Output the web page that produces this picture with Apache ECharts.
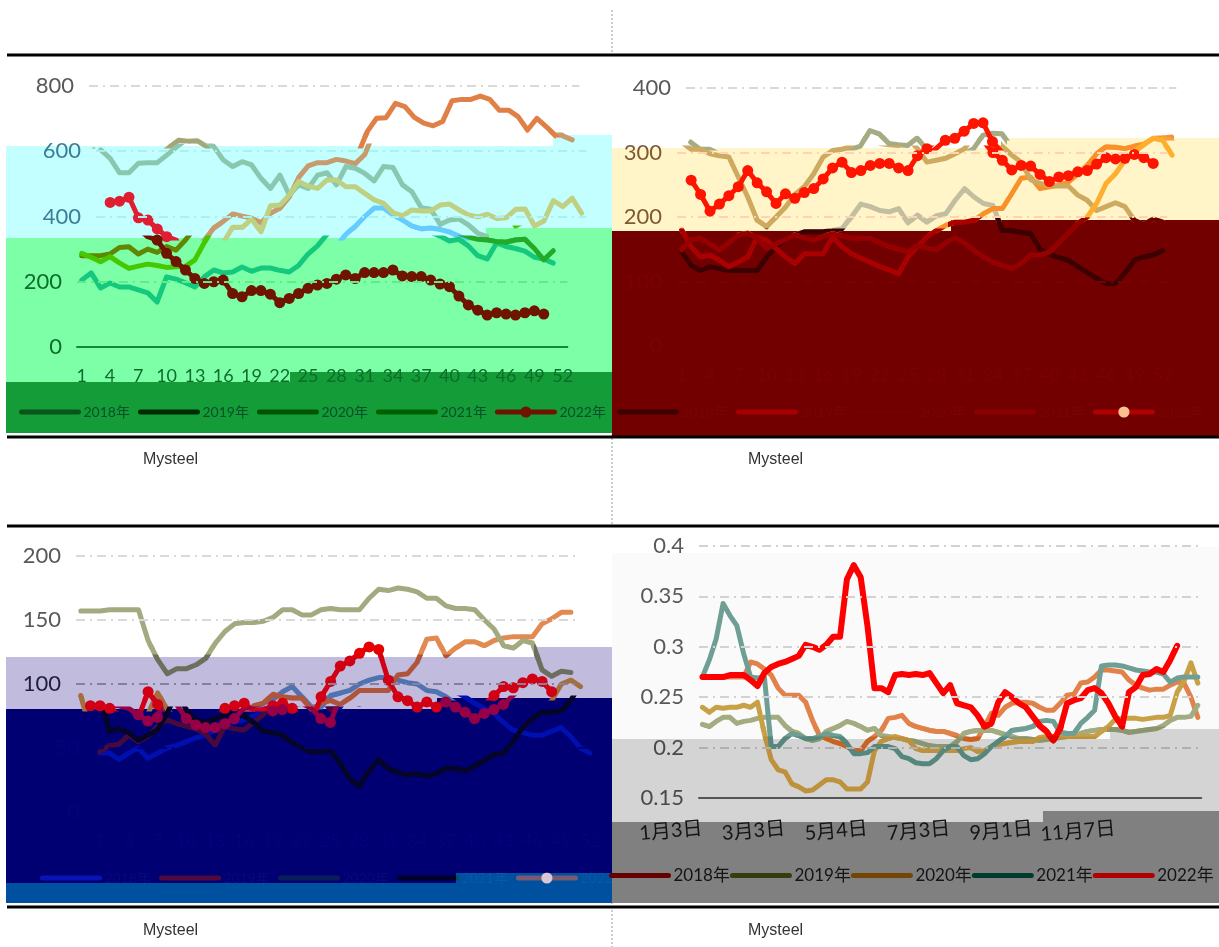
<!DOCTYPE html>
<html>
<head>
<meta charset="utf-8">
<style>html,body{margin:0;padding:0;background:#fff}#main{width:1219px;height:947px}</style>
<script src="https://cdn.jsdelivr.net/npm/echarts@6/dist/echarts.min.js"></script>
</head>
<body>
<div id="main"></div>
<script>
var years = ['2018年', '2019年', '2020年', '2021年', '2022年'];
var weeks = [];
for (var w = 1; w <= 52; w++) weeks.push(String(w));

// top left
var tl2018 = [205,227,181,196,184,184,175,166,138,215,208,197,184,215,236,227,230,245,232,242,242,235,230,250,285,310,345,370,400,426,426,405,389,371,362,365,360,352,340,325,330,310,280,270,319,308,302,294,275,270,257];
var tl2019 = [280,280,280,285,305,307,285,300,290,308,297,328,365,385,408,401,395,381,410,425,460,520,555,565,565,575,570,562,590,660,701,703,747,737,704,686,678,691,755,759,759,769,759,726,726,706,665,701,675,647,635];
var tl2020 = [604,578,534,534,563,565,565,588,612,634,631,632,614,573,553,568,558,517,486,527,466,497,486,527,534,497,553,548,532,509,553,550,497,476,427,422,376,389,392,374,348,338,330,328,323,321,328,330,302,267,295];
var tl2021 = [287,275,261,277,258,241,248,254,250,244,246,247,267,320,367,367,392,353,433,435,466,507,493,486,512,512,491,491,471,451,440,412,402,420,417,417,435,438,420,405,399,407,394,396,422,423,371,386,449,430,456,410];
var tl2022 = [null,443,447,459,396,389,362,338,328,287,262,236,210,195,200,205,164,154,173,173,162,136,149,164,180,190,195,208,221,210,228,228,228,236,218,216,216,205,193,185,156,129,113,98,105,101,98,105,111,101];

// top right
var tr2018 = [146,125,117,123,120,117,117,117,117,138,154,165,172,177,177,177,179,182,200,220,216,210,208,213,191,203,192,202,205,226,244,231,221,218,179,179,176,174,150,142,137,133,123,114,105,97,97,113,133,138,141,148];
var tr2019 = [180,154,138,141,133,123,130,138,169,164,151,138,128,143,143,143,169,154,143,136,130,123,118,112,138,154,169,179,187,192,192,195,205,213,213,236,260,262,244,247,249,254,267,280,298,309,308,306,310,313,322,324];
var tr2020 = [316,305,305,298,295,293,262,231,195,185,200,215,235,247,267,293,303,305,310,334,329,314,312,311,322,306,285,288,291,298,306,327,330,329,309,296,285,258,252,249,248,248,234,226,210,216,222,216,195,188,197,192];
var tr2021 = [149,165,167,158,149,160,172,175,167,151,158,165,172,168,164,170,174,170,167,167,167,160,154,150,146,156,152,149,160,168,160,148,138,130,125,120,128,141,141,146,160,175,190,200,221,252,267,288,301,312,322,319,296];
var tr2022 = [null,257,235,209,220,233,247,272,253,239,221,236,229,238,244,259,276,285,269,272,280,283,283,276,272,295,306,319,322,333,345,346,317,300,288,273,280,279,266,255,262,264,270,272,282,292,290,291,297,292,283];

// bottom left
var bl2018 = [46,46,41,46,50,42,46,50,52,55,58,60,64,67,70,72,75,78,80,85,88,94,98,90,82,82,91,93,95,100,103,105,105,103,101,100,95,94,90,85,81,77,70,64,62,60,60,63,66,59,50,46];
var bl2019 = [47,52,53,60,55,59,67,72,69,67,65,61,52,67,65,64,70,76,83,85,92,90,89,89,80,85,87,84,89,95,95,95,95,107,108,117,135,136,122,128,133,133,130,134,136,137,137,137,147,151,156,156];
var bl2020 = [157,157,157,158,158,158,158,134,119,108,112,112,115,120,132,141,147,148,148,149,152,158,158,154,154,158,159,158,158,158,167,174,173,175,174,172,167,167,161,159,159,158,150,143,130,128,134,132,111,106,110,109];
var bl2021 = [91,63,65,62,56,60,64,77,93,80,72,70,73,76,76,75,70,63,62,60,54,50,47,47,48,38,26,20,32,41,34,31,29,30,28,30,34,34,32,36,40,45,46,55,66,73,78,78,79,87,100,103,98];
var bl2022 = [null,83,83,81,76,71,74,94,84,73,68,66,66,69,73,81,83,85,79,80,83,85,81,73,70,90,102,114,118,124,129,127,103,90,87,82,86,82,78,73,77,80,84,91,98,97,101,104,102,94];

// bottom right, one value every five days
var br2018 = [.270,.270,.270,.270,.270,.270,.270,.285,.283,.278,.272,.259,.252,.252,.252,.245,.227,.212,.209,.206,.204,.201,.197,.197,.206,.211,.217,.229,.230,.232,.224,.221,.219,.217,.216,.216,.214,.212,.209,.208,.209,.221,.234,.232,.240,.244,.245,.245,.244,.240,.237,.237,.244,.252,.253,.264,.265,.270,.277,.277,.276,.275,.267,.262,.259,.257,.258,.258,.262,.265,.264,.250,.230];
var br2019 = [.223,.221,.226,.230,.230,.224,.226,.227,.229,.230,.230,.230,.222,.216,.214,.209,.207,.209,.216,.219,.222,.226,.224,.221,.217,.219,.212,.211,.210,.209,.207,.206,.204,.202,.201,.201,.201,.206,.214,.216,.217,.217,.217,.215,.213,.211,.209,.209,.208,.207,.208,.209,.210,.211,.212,.214,.216,.217,.218,.218,.218,.217,.215,.216,.217,.218,.219,.222,.227,.230,.230,.231,.242];
var br2020 = [.240,.235,.240,.239,.240,.240,.242,.240,.245,.214,.188,.178,.176,.164,.161,.157,.158,.163,.168,.168,.166,.159,.159,.159,.166,.197,.206,.209,.211,.209,.207,.199,.197,.197,.197,.197,.197,.197,.199,.200,.196,.197,.201,.203,.204,.205,.206,.206,.206,.210,.211,.211,.211,.211,.211,.211,.211,.211,.216,.221,.228,.229,.229,.229,.228,.229,.230,.230,.232,.255,.266,.284,.264];
var br2021 = [.270,.287,.308,.343,.331,.321,.293,.270,.269,.270,.201,.201,.209,.214,.212,.209,.209,.211,.214,.212,.211,.204,.194,.194,.195,.201,.201,.201,.199,.191,.189,.185,.184,.184,.189,.197,.201,.201,.192,.188,.189,.194,.201,.206,.211,.217,.218,.219,.221,.226,.227,.226,.215,.214,.214,.224,.230,.237,.281,.282,.282,.281,.279,.277,.276,.275,.275,.273,.265,.269,.270,.270,.270];
var br2022 = [.270,.270,.270,.270,.272,.272,.272,.267,.261,.274,.280,.283,.285,.288,.291,.302,.300,.297,.302,.310,.310,.367,.381,.369,.320,.259,.259,.255,.272,.273,.272,.273,.272,.274,.264,.254,.262,.244,.242,.240,.232,.221,.224,.245,.255,.250,.244,.240,.231,.222,.216,.207,.219,.244,.247,.249,.257,.259,.254,.244,.231,.221,.255,.260,.272,.273,.278,.275,.287,.301];

var brTicks = {0: '1月3日', 12: '3月3日', 24: '5月4日', 36: '7月3日', 48: '9月1日', 60: '11月7日'};
var brCats = [];
for (var d = 0; d < 73; d++) brCats.push(brTicks[d] || '');

var FONT = 'Lato, "Noto Sans CJK SC", sans-serif';
var DASH = [9, 5, 2, 5];

var panels = [
    {
        id: 'tl', L: 6, R: 612, end: 433, left: 77, catW: 9.43, top: 86, bottom: 347, min: 0, max: 800,
        data: [tl2018, tl2019, tl2020, tl2021, tl2022], ticks: [800, 600, 400, 200, 0],
        cats: weeks, interval: 2, catFont: 18, catColor: '#0d6e2a', axisColor: '#128a35', catShift: 0,
        legend: {left: 19, top: 405, font: 14, gap: 8, z: 6, text: '#0a5028', marker: '#6e1400', colors: ['#0a5519', '#002d00', '#005505', '#005f00', '#6e1400']},
        strips: [
            {top: 55, fill: '#ffffff', shift: 12, grid: '#d9d9d9', tick: '#595959', colors: ['#5b9bd5', '#e07f46', '#a5a578', '#b4c878', '#e01e32']},
            {top: 146, stepX: 553, stepTop: 135, fill: '#c4ffff', shift: 19, grid: '#aaf0f0', tick: '#3a7f95', colors: ['#64ccff', '#c69b6e', '#89c8af', '#bed082', '#e01e32']},
            {top: 238, stepX: 486, stepTop: 228, fill: '#7dffa8', shift: 0, grid: '#5feb87', tick: '#0d6e2a', colors: ['#14c87d', '#5f8700', '#23aa28', '#46c800', '#6e1400']},
            {top: 382, stepX: 290, stepTop: 372, fill: '#149c38', shift: 0, grid: '#149c38', tick: '#0d6e2a', colors: ['#149c38', '#149c38', '#149c38', '#149c38', '#149c38'], empty: true}
        ]
    },
    {
        id: 'tr', L: 612, R: 1219, end: 436, left: 677, catW: 9.43, top: 88, bottom: 346, min: 0, max: 400,
        data: [tr2018, tr2019, tr2020, tr2021, tr2022], ticks: [400, 300, 200, 100, 0],
        cats: weeks, interval: 2, catFont: 18, catColor: '#790202', axisColor: '#730000', catShift: 0,
        legend: {left: 617, top: 405, font: 14, gap: 8, z: 6, text: '#7a0303', marker: '#ffc090', colors: ['#400000', '#a80000', '#750000', '#8c0000', '#b00000']},
        strips: [
            {top: 55, fill: '#ffffff', shift: 9, grid: '#d9d9d9', tick: '#595959', colors: ['#a8a890', '#f09040', '#a5ab85', '#f5a030', '#ff1400']},
            {top: 148, stepX: 1004, stepTop: 138, fill: '#fff5c8', shift: 0, grid: '#ffd2b4', tick: '#7d5a32', colors: ['#c3be9f', '#fa9128', '#cdaa5f', '#ffaf2d', '#ff1400']},
            {top: 231, stepX: 951, stepTop: 220, fill: '#730000', shift: 0, grid: '#760202', tick: '#790202', colors: ['#3c0000', '#aa0000', '#730000', '#960000', '#ff1400']}
        ]
    },
    {
        id: 'bl', L: 6, R: 612, end: 903, left: 76, catW: 9.61, top: 556, bottom: 812, min: 0, max: 200,
        data: [bl2018, bl2019, bl2020, bl2021, bl2022], ticks: [200, 150, 100, 50, 0],
        cats: weeks, interval: 2, catFont: 18, catColor: '#03037a', axisColor: '#000073', catShift: 19,
        legend: {left: 40, top: 871, font: 14, gap: 8, z: 6, text: '#08087e', marker: '#d878a8', colors: ['#0a14b4', '#500a3c', '#0a1e5a', '#000028', '#780a46']},
        strips: [
            {top: 525, fill: '#ffffff', shift: 0, grid: '#d9d9d9', tick: '#595959', colors: ['#5b8cc8', '#e38a50', '#a3aa80', '#c89650', '#e60000']},
            {top: 657, stepX: 537, stepTop: 647, fill: '#c1bbde', shift: 0, grid: '#82829b', tick: '#1f1f3f', colors: ['#5073af', '#af553c', '#6e6e5f', '#a56e3c', '#d20014']},
            {top: 709, stepX: 437, stepTop: 698, fill: '#000073', shift: 19, grid: '#000078', tick: '#03037a', colors: ['#000fb0', '#460a3c', '#0a1460', '#050528', '#960046']}
        ],
        lighter: [{x: 6, y: 883, w: 606, h: 20}, {x: 456, y: 873, w: 156, h: 10}]
    },
    {
        id: 'br', L: 612, R: 1219, end: 903, left: 699, catW: 6.88, top: 546, bottom: 798, min: 0.15, max: 0.4,
        data: [br2018, br2019, br2020, br2021, br2022], ticks: [0.4, 0.35, 0.3, 0.25, 0.2, 0.15],
        cats: brCats, interval: function (i) { return brTicks[i] !== undefined; }, catFont: 20, catColor: '#141414', axisColor: '#555555', catShift: 0, rotate: 5,
        legend: {left: 609, top: 867, font: 17, gap: 0, z: 9, text: '#141414', marker: '#b00000', colors: ['#640000', '#373c0f', '#734605', '#003c2d', '#b20000']},
        strips: [
            {top: 525, fill: '#ffffff', shift: 0, grid: '#d2d2d2', tick: '#595959', colors: ['#e0824a', '#a3ab80', '#c8a046', '#6f9f94', '#ff0000']},
            {top: 553, stepX: 1081, stepTop: 547, fill: '#fafafa', shift: 0, grid: '#d2d2d2', tick: '#595959', colors: ['#e0824a', '#a3ab80', '#c8a046', '#6f9f94', '#ff0000']},
            {top: 739, stepX: 1110, stepTop: 729, fill: '#d4d4d4', shift: 0, grid: '#b0b0b0', tick: '#4a4a4a', colors: ['#c86423', '#8c966e', '#be913c', '#55877d', '#e60000']},
            {top: 822, stepX: 1043, stepTop: 811, fill: '#808080', shift: 0, grid: '#808080', tick: '#222222', colors: ['#808080', '#808080', '#808080', '#808080', '#808080'], empty: true}
        ]
    }
];

var grids = [], xAxes = [], yAxes = [], series = [], legends = [], shapes = [];

function yToValue (p, y) {
    return p.min + (p.bottom - y) / (p.bottom - p.top) * (p.max - p.min);
}

function addRect (p, s, x0, x1, y0, y1, isMain) {
    shapes.push({type: 'rect', z: 1, silent: true, shape: {x: x0, y: y0, width: x1 - x0, height: y1 - y0}, style: {fill: s.fill}});
    if (s.empty) return;
    var idx = grids.length;
    var originX = p.left + s.shift;
    grids.push({left: x0, top: y0, width: x1 - x0, height: y1 - y0});
    xAxes.push({type: 'value', gridIndex: idx, show: false, min: 0.5 + (x0 - originX) / p.catW, max: 0.5 + (x1 - originX) / p.catW});
    yAxes.push({type: 'value', gridIndex: idx, show: false, min: yToValue(p, y1), max: yToValue(p, y0)});
    p.data.forEach(function (vals, k) {
        var points = [];
        vals.forEach(function (v, i) {
            if (v !== null) points.push([i + 1, v]);
        });
        series.push({
            name: p.id + '-' + years[k],
            type: 'line',
            xAxisIndex: idx,
            yAxisIndex: idx,
            z: 3 + k * 0.1,
            silent: true,
            animation: false,
            data: points,
            symbol: p.id !== 'br' && k === 4 ? 'circle' : 'none',
            symbolSize: 11,
            showAllSymbol: true,
            itemStyle: {color: s.colors[k]},
            lineStyle: {color: s.colors[k], width: p.id === 'br' && k === 4 ? 6 : 5, cap: 'round', join: 'round'}
        });
    });
    if (!isMain) return;
    var lines = [];
    p.ticks.forEach(function (t) {
        var y = p.bottom - (t - p.min) / (p.max - p.min) * (p.bottom - p.top);
        if (y < y0 || y >= y1) return;
        lines.push([
            {coord: [0.5, t], label: {formatter: String(t)}},
            {coord: [p.cats.length + 0.5, t]}
        ]);
    });
    if (!lines.length) return;
    series.push({
        type: 'line',
        xAxisIndex: idx,
        yAxisIndex: idx,
        z: 2,
        silent: true,
        data: [],
        markLine: {
            silent: true,
            animation: false,
            symbol: 'none',
            lineStyle: {color: s.grid, width: 2, type: DASH},
            label: {show: true, position: 'start', distance: 15, fontFamily: FONT, fontSize: 22, color: s.tick},
            data: lines
        }
    });
}

panels.forEach(function (p) {
    p.strips.forEach(function (s, i) {
        var next = p.strips[i + 1];
        var mainBottom = next ? (next.stepTop || next.top) : p.end;
        addRect(p, s, p.L, p.R, s.top, mainBottom, true);
        if (next && next.stepX) addRect(p, s, p.L, next.stepX, next.stepTop, next.top, false);
        if (s.stepX) addRect(p, s, s.stepX, p.R, s.stepTop, s.top, false);
    });

    // category labels and the base line of the panel
    var idx = grids.length;
    grids.push({left: p.left + p.catShift, top: p.top, width: p.catW * p.cats.length, height: p.bottom - p.top});
    xAxes.push({
        type: 'category', gridIndex: idx, data: p.cats, z: 6,
        axisLine: {show: true, lineStyle: {color: p.axisColor, width: 2}},
        axisTick: {show: false},
        axisLabel: {
            interval: p.interval, rotate: p.rotate || 0, margin: p.rotate ? 30 : 20,
            fontFamily: FONT, fontSize: p.catFont, color: p.catColor, hideOverlap: false
        }
    });
    yAxes.push({type: 'value', gridIndex: idx, show: false, min: p.min, max: p.max});

    var lg = p.legend;
    legends.push({
        left: lg.left,
        top: lg.top,
        z: lg.z,
        padding: 0,
        orient: 'horizontal',
        width: 700,
        selectedMode: false,
        itemWidth: 57,
        itemHeight: 14,
        itemGap: lg.gap,
        textStyle: {fontFamily: FONT, fontSize: lg.font, color: lg.text},
        formatter: function (name) { return name.split('-')[1]; },
        data: years.map(function (y, k) {
            return {
                name: p.id + '-' + y,
                // only the 2022 entry of the weekly panels keeps its dot
                itemStyle: {color: k === 4 && p.id !== 'br' ? lg.marker : lg.colors[k], opacity: k === 4 && p.id !== 'br' ? 1 : 0},
                lineStyle: {color: lg.colors[k], width: 5, opacity: 1}
            };
        })
    });

    (p.lighter || []).forEach(function (r) {
        shapes.push({type: 'rect', z: 7, silent: true, shape: {x: r.x, y: r.y, width: r.w, height: r.h}, style: {fill: 'rgb(0,80,45)', blend: 'lighter'}});
    });
});

// the bottom left legend is cut off at the panel edge
shapes.push({type: 'rect', z: 8, silent: true, shape: {x: 612, y: 864, width: 30, height: 24}, style: {fill: '#808080'}});

// page frame
[[7, 55, 1219, 55], [7, 437, 1219, 437], [7, 526, 1219, 526], [7, 907, 1219, 907]].forEach(function (r) {
    shapes.push({type: 'line', z: 20, silent: true, shape: {x1: r[0], y1: r[1], x2: r[2], y2: r[3]}, style: {stroke: '#000', lineWidth: 3}});
});
shapes.push({type: 'line', z: 0, silent: true, shape: {x1: 612, y1: 10, x2: 612, y2: 947}, style: {stroke: '#999', lineWidth: 1, lineDash: [2, 2]}});
[[143, 460], [748, 460], [143, 931], [748, 931]].forEach(function (t) {
    shapes.push({type: 'text', z: 20, silent: true, style: {x: t[0], y: t[1], text: 'Mysteel', fill: '#333', font: '16px "Liberation Sans"', textVerticalAlign: 'middle'}});
});

echarts.init(document.getElementById('main')).setOption({
    backgroundColor: '#fff',
    animation: false,
    tooltip: {show: false},
    grid: grids,
    xAxis: xAxes,
    yAxis: yAxes,
    legend: legends,
    series: series,
    graphic: {elements: shapes}
});
</script>
</body>
</html>
